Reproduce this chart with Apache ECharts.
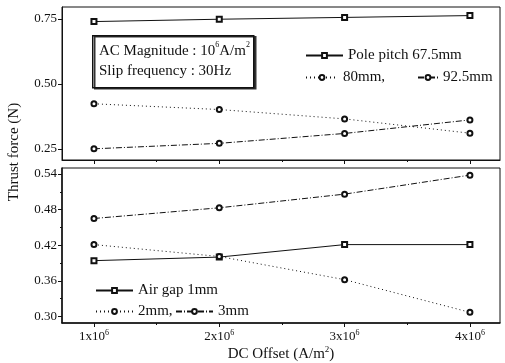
<!DOCTYPE html>
<html>
<head>
<meta charset="utf-8">
<script src="https://cdn.jsdelivr.net/npm/echarts@6/dist/echarts.min.js"></script>
<style>
  html, body { margin: 0; padding: 0; background: #fff; }
  #chart { width: 505px; height: 363px; }
</style>
</head>
<body>
<div id="chart"></div>
<script>
// DC offset (x 10^6 A/m^2)
const dcOffset = [1, 2, 3, 4]

// top panel: pole pitch
const pole675 = [0.740, 0.749, 0.756, 0.763]
const pole80 = [0.424, 0.402, 0.366, 0.311]
const pole925 = [0.251, 0.272, 0.310, 0.362]

// bottom panel: air gap
const gap1 = [0.394, 0.400, 0.421, 0.421]
const gap2 = [0.421, 0.401, 0.362, 0.307]
const gap3 = [0.465, 0.483, 0.506, 0.538]

const topTicks = [0.25, 0.50, 0.75]
const bottomTicks = [0.30, 0.36, 0.42, 0.48, 0.54]
const bottomMinor = [0.33, 0.39, 0.45, 0.51]
const xMinor = [1.5, 2.5, 3.5]

const serif = '"Liberation Serif", "DejaVu Serif", serif'
const ink = '#111'

function pairs(ys) {
  return dcOffset.map((x, i) => [x, ys[i]])
}

function lineSeries(name, ys, idx, symbol, dash) {
  return {
    name: name,
    type: 'line',
    xAxisIndex: idx,
    yAxisIndex: idx,
    data: pairs(ys),
    symbol: symbol,
    symbolSize: 5,
    lineStyle: { color: ink, width: 1, type: dash },
    itemStyle: { color: ink, borderWidth: 1 },
    animation: false,
    z: 3
  }
}

const dotted = [1, 3]
const dashDot = [6, 2, 1, 2]

const xMin = 0.745
const xMax = 4.24

function xAxisMain(grid, showLabel) {
  return {
    type: 'value',
    gridIndex: grid,
    position: 'bottom',
    min: xMin,
    max: xMax,
    axisLine: { show: true, lineStyle: { color: ink, width: showLabel ? 1.5 : 1 } },
    axisTick: { show: true, inside: false, length: 4, customValues: dcOffset, lineStyle: { color: ink } },
    axisLabel: {
      show: showLabel,
      customValues: dcOffset,
      margin: 6,
      formatter: v => '{b|' + v + 'x10}{s|6}',
      rich: {
        b: { fontFamily: serif, fontSize: 13, color: ink, lineHeight: 16 },
        s: { fontFamily: serif, fontSize: 8, color: ink, verticalAlign: 'top' }
      }
    },
    splitLine: { show: false },
    name: showLabel ? '{b|DC Offset (A/m}{s|2}{b|)}' : '',
    nameLocation: 'middle',
    nameGap: 22,
    nameTextStyle: {
      rich: {
        b: { fontFamily: serif, fontSize: 15, color: ink, lineHeight: 18 },
        s: { fontFamily: serif, fontSize: 9, color: ink, verticalAlign: 'top' }
      }
    }
  }
}

function xAxisMinor(grid) {
  return {
    type: 'value',
    gridIndex: grid,
    position: 'bottom',
    min: xMin,
    max: xMax,
    axisLine: { show: false },
    axisTick: { show: true, length: 2, customValues: xMinor, lineStyle: { color: ink } },
    axisLabel: { show: false },
    splitLine: { show: false }
  }
}

function yAxisMain(grid, min, max, ticks, width) {
  return {
    type: 'value',
    gridIndex: grid,
    position: 'left',
    min: min,
    max: max,
    axisLine: { show: true, lineStyle: { color: ink, width: width } },
    axisTick: { show: true, length: 4, customValues: ticks, lineStyle: { color: ink } },
    axisLabel: {
      customValues: ticks,
      margin: 5,
      fontFamily: serif,
      fontSize: 13,
      color: ink,
      formatter: v => v.toFixed(2)
    },
    splitLine: { show: false }
  }
}

const legendText = { fontFamily: serif, fontSize: 15, color: ink }

const chart = echarts.init(document.getElementById('chart'))

chart.setOption({
  backgroundColor: '#fff',
  animation: false,
  grid: [
    { left: 62, top: 7, width: 438, height: 153, show: true, borderColor: ink, borderWidth: 1, backgroundColor: 'transparent' },
    { left: 62, top: 168, width: 438, height: 155, show: true, borderColor: ink, borderWidth: 1, backgroundColor: 'transparent' }
  ],
  xAxis: [
    xAxisMain(0, false),
    xAxisMain(1, true),
    xAxisMinor(0),
    xAxisMinor(1)
  ],
  yAxis: [
    yAxisMain(0, 0.208, 0.796, topTicks, 1),
    yAxisMain(1, 0.289, 0.550, bottomTicks, 1.5),
    {
      type: 'value',
      gridIndex: 1,
      position: 'left',
      min: 0.289,
      max: 0.550,
      axisLine: { show: false },
      axisTick: { show: true, length: 2, customValues: bottomMinor, lineStyle: { color: ink } },
      axisLabel: { show: false },
      splitLine: { show: false }
    }
  ],
  legend: [
    { data: ['Pole pitch 67.5mm'], left: 300, top: 43, itemWidth: 37, itemHeight: 6, textStyle: legendText },
    { data: ['80mm'], left: 300, top: 65, itemWidth: 32, itemHeight: 6, formatter: '{name},', textStyle: legendText },
    { data: ['92.5mm'], left: 412, top: 65, itemWidth: 20, itemHeight: 6, textStyle: legendText },
    { data: ['Air gap 1mm'], left: 90, top: 278, itemWidth: 37, itemHeight: 6, textStyle: legendText },
    { data: ['2mm'], left: 90, top: 299, itemWidth: 37, itemHeight: 6, formatter: '{name},', textStyle: legendText },
    { data: ['3mm'], left: 170, top: 299, itemWidth: 37, itemHeight: 6, textStyle: legendText }
  ],
  graphic: [
    {
      type: 'rect',
      left: 92,
      top: 35,
      shape: { width: 161, height: 52 },
      style: { fill: '#fff', stroke: ink, lineWidth: 1.5, shadowColor: '#333', shadowOffsetX: 2, shadowOffsetY: 1 },
      z: 10
    },
    {
      type: 'text',
      left: 99,
      top: 41,
      z: 11,
      style: {
        text: '{b|AC Magnitude : 10}{s|6}{b|A/m}{s|2}\n{b|Slip frequency : 30Hz}',
        rich: {
          b: { fontFamily: serif, fontSize: 15, fill: ink, lineHeight: 20 },
          s: { fontFamily: serif, fontSize: 8, fill: ink, verticalAlign: 'top' }
        }
      }
    },
    {
      type: 'text',
      x: 14,
      y: 152,
      rotation: Math.PI / 2,
      style: {
        text: 'Thrust force (N)',
        fontFamily: serif,
        fontSize: 15,
        fill: ink,
        align: 'center',
        verticalAlign: 'middle'
      }
    }
  ],
  series: [
    lineSeries('Pole pitch 67.5mm', pole675, 0, 'emptyRect', 'solid'),
    lineSeries('80mm', pole80, 0, 'emptyCircle', dotted),
    lineSeries('92.5mm', pole925, 0, 'emptyCircle', dashDot),
    lineSeries('Air gap 1mm', gap1, 1, 'emptyRect', 'solid'),
    lineSeries('2mm', gap2, 1, 'emptyCircle', dotted),
    lineSeries('3mm', gap3, 1, 'emptyCircle', dashDot)
  ]
})
</script>
</body>
</html>
